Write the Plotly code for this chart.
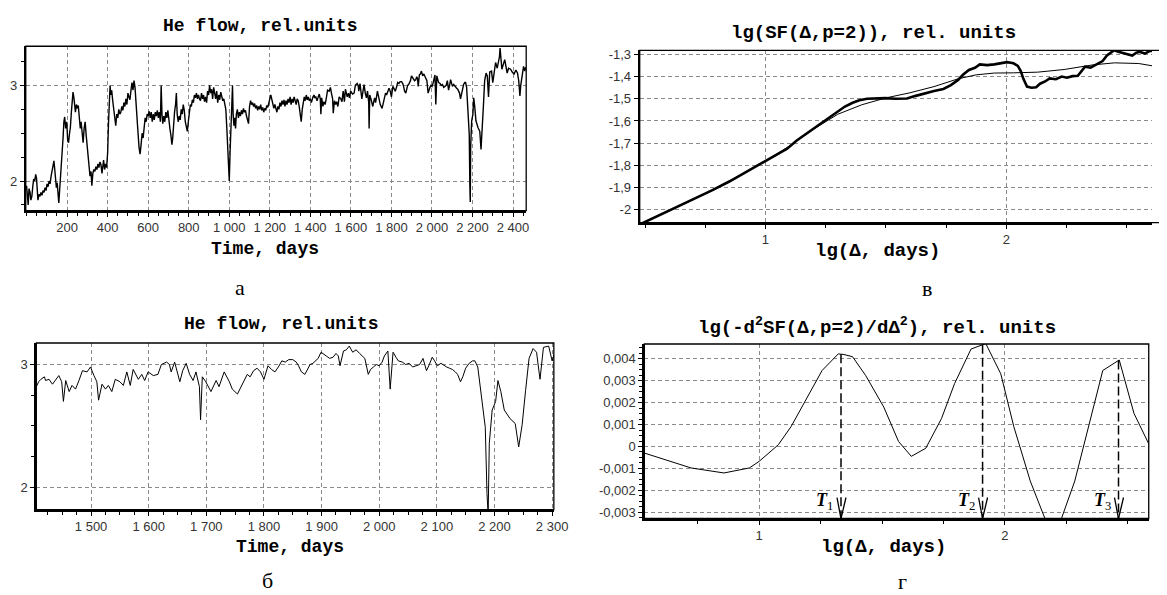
import numpy as np
import plotly.graph_objects as go

W, H = 1167, 595          # reference picture size
OFF = 8                   # browser body margin
FW, FH = W - OFF, H - OFF  # figure size so that it ends at the window edge

# ---------------- data: He flow series (days, rel. units) ----------------
day_early = [0, 4, 8, 12, 17, 21, 26, 31, 35, 40, 45, 49, 53, 56, 61, 66, 71, 76, 81, 86, 91, 96, 101, 106, 111, 116, 121, 126, 131, 135,
             139, 143, 147, 151, 155, 159, 163, 167, 171, 176, 180, 184, 188, 193, 198, 203, 207, 212, 216, 221, 225, 229, 233, 237, 241,
             246, 251, 255, 260, 265, 269, 274, 279, 284, 289, 294, 298, 303, 308, 313, 318, 322, 327, 332, 337, 342, 347, 352, 357, 362,
             367, 372, 376, 380, 385, 390, 395, 400, 404, 408, 412, 416, 420, 425, 430, 435, 440, 445, 450, 455, 460, 465, 470, 475, 480,
             485, 490, 495, 500, 505, 510, 515, 520, 525, 530, 535, 540, 545, 550, 555, 560, 565, 570, 575, 580, 585, 590, 595, 600, 605,
             610, 615, 620, 625, 630, 635, 640, 645, 650, 655, 660, 664, 668, 672, 677, 682, 687, 692, 697, 702, 707, 712, 717, 721, 725,
             730, 735, 739, 743, 748, 753, 758, 763, 768, 773, 778, 783, 788, 793, 798, 803, 808, 813, 818, 823, 828, 833, 838, 843, 848,
             853, 858, 863, 868, 873, 878, 883, 888, 893, 898, 903, 908, 913, 918, 923, 928, 933, 938, 943, 948, 953, 958, 963, 968, 973,
             978, 983, 988, 992, 996, 1000, 1004, 1008, 1012, 1016, 1019, 1023, 1027, 1031, 1035, 1040, 1045, 1050, 1055, 1060, 1065,
             1070, 1075, 1080, 1085, 1090, 1095, 1100, 1105, 1110, 1115, 1120, 1125, 1130, 1135, 1140, 1145, 1150, 1155, 1160, 1165,
             1170, 1175, 1180, 1185, 1190, 1195, 1200, 1205, 1210, 1215, 1220, 1225, 1230, 1235, 1240, 1245, 1250, 1255, 1260, 1265,
             1270, 1275, 1280, 1285, 1290, 1295, 1300, 1305, 1310, 1315, 1320, 1325, 1330, 1335, 1340, 1345, 1350, 1355, 1360, 1365,
             1370, 1375, 1380, 1385, 1390, 1395, 1400]
flow_early = [1.95, 1.80, 1.75, 1.92, 1.88, 1.80, 1.84, 1.95, 2.02, 2.00, 2.07, 2.03, 1.90, 1.80, 1.86, 1.84, 1.88, 1.85, 1.90, 1.88,
              1.93, 1.90, 1.97, 1.94, 2.00, 1.97, 2.05, 2.10, 2.15, 2.21, 2.12, 2.02, 1.93, 1.98, 1.85, 1.77, 1.90, 2.02, 2.10, 2.28,
              2.45, 2.62, 2.67, 2.55, 2.62, 2.42, 2.40, 2.50, 2.56, 2.72, 2.80, 2.93, 2.88, 2.78, 2.72, 2.80, 2.76, 2.79, 2.68, 2.55,
              2.62, 2.45, 2.40, 2.55, 2.62, 2.48, 2.38, 2.25, 2.10, 2.05, 2.10, 1.95, 2.08, 2.12, 2.10, 2.15, 2.12, 2.18, 2.14, 2.20,
              2.17, 2.08, 2.15, 2.22, 2.12, 2.18, 2.14, 2.30, 2.60, 2.85, 3.00, 2.90, 2.95, 2.84, 2.75, 2.72, 2.58, 2.70, 2.66, 2.75,
              2.70, 2.72, 2.78, 2.74, 2.82, 2.78, 2.86, 2.80, 2.92, 2.88, 2.85, 2.95, 3.03, 2.95, 3.05, 2.98, 2.85, 2.72, 2.50, 2.35,
              2.28, 2.38, 2.50, 2.45, 2.58, 2.66, 2.62, 2.70, 2.68, 2.73, 2.66, 2.72, 2.62, 2.70, 2.64, 2.72, 2.68, 2.74, 2.66, 2.72,
              2.62, 3.00, 2.70, 2.60, 2.68, 2.62, 2.72, 2.66, 2.74, 2.62, 2.55, 2.48, 2.38, 2.45, 2.60, 2.72, 2.80, 2.92, 2.70, 2.62,
              2.68, 2.64, 2.75, 2.70, 2.80, 2.74, 2.62, 2.55, 2.52, 2.62, 2.72, 2.80, 2.78, 2.85, 2.82, 2.90, 2.87, 2.92, 2.86, 2.90,
              2.86, 2.84, 2.92, 2.86, 2.90, 2.83, 2.88, 2.82, 2.94, 2.90, 3.00, 2.92, 2.96, 2.86, 2.98, 2.90, 2.86, 2.94, 2.82, 2.90,
              2.85, 2.93, 2.88, 2.84, 2.86, 2.80, 2.75, 2.55, 2.30, 2.15, 2.00, 2.30, 2.55, 2.62, 3.00, 2.70, 2.58, 2.66, 2.55, 2.70,
              2.75, 2.66, 2.72, 2.68, 2.74, 2.70, 2.76, 2.72, 2.74, 2.68, 2.62, 2.60, 2.78, 2.84, 2.80, 2.82, 2.78, 2.81, 2.76, 2.79,
              2.74, 2.78, 2.75, 2.80, 2.74, 2.77, 2.72, 2.76, 2.74, 2.79, 2.77, 2.83, 2.86, 2.90, 2.84, 2.80, 2.76, 2.80, 2.74, 2.72,
              2.78, 2.75, 2.82, 2.78, 2.84, 2.80, 2.85, 2.78, 2.84, 2.80, 2.86, 2.82, 2.88, 2.80, 2.86, 2.82, 2.88, 2.84, 2.80, 2.86,
              2.84, 2.78, 2.72, 2.62, 2.75, 2.82, 2.88, 2.84, 2.90, 2.85, 2.88, 2.84, 2.86]

day_mid = [1405, 1409, 1413, 1419, 1421, 1427, 1433, 1439, 1444, 1449, 1452, 1456, 1462, 1467, 1473, 1479, 1485, 1493, 1499, 1505,
           1510, 1513, 1519, 1525, 1530, 1536, 1542, 1550, 1556, 1562, 1568, 1573, 1582, 1588, 1593, 1599, 1608, 1616, 1622, 1631,
           1636, 1639, 1645, 1654, 1659, 1665, 1671, 1677, 1682, 1688, 1690, 1693, 1699, 1708, 1717, 1722, 1731, 1740, 1745, 1754,
           1765, 1771, 1776, 1782, 1788, 1794, 1800, 1807, 1813, 1819, 1825, 1831, 1837, 1843, 1850, 1856, 1860, 1865, 1871, 1876,
           1880, 1885, 1889, 1894, 1899, 1904, 1908, 1914, 1920, 1925, 1929, 1932, 1938, 1943, 1948, 1954, 1960, 1966, 1970, 1975,
           1981, 1985, 1990, 1995, 2000, 2005, 2009, 2015, 2019, 2024, 2029, 2033, 2040, 2046, 2052, 2058, 2064, 2070, 2076, 2082,
           2087, 2092, 2096, 2101, 2107, 2113, 2117, 2122, 2127, 2132, 2136, 2141, 2145, 2150, 2156, 2162, 2166, 2171, 2178, 2184,
           2187, 2189, 2191, 2196, 2202, 2206, 2211, 2217, 2227, 2236, 2242, 2248, 2254, 2260, 2267, 2273, 2279, 2285, 2294, 2300]
flow_mid = [2.82, 2.86, 2.88, 2.90, 2.87, 2.88, 2.84, 2.88, 2.91, 2.86, 2.70, 2.87, 2.78, 2.83, 2.80, 2.87, 2.95, 2.94, 2.98, 2.91,
            2.86, 2.71, 2.84, 2.80, 2.83, 2.78, 2.88, 2.86, 2.83, 2.94, 2.83, 2.96, 2.88, 2.92, 2.87, 2.94, 2.91, 2.92, 3.00, 3.02,
            3.00, 2.94, 3.02, 2.86, 2.95, 3.01, 2.92, 2.87, 2.94, 2.82, 2.55, 2.90, 2.86, 2.78, 2.87, 2.82, 2.94, 2.86, 2.80, 2.76,
            2.87, 2.92, 2.90, 2.95, 2.97, 2.94, 2.88, 2.99, 2.96, 2.94, 2.98, 3.03, 3.02, 3.04, 3.04, 3.02, 2.99, 2.94, 2.92, 2.97,
            3.00, 3.01, 3.03, 3.05, 3.10, 3.08, 3.07, 3.05, 3.06, 3.09, 3.07, 2.99, 3.11, 3.12, 3.15, 3.10, 3.12, 3.09, 3.07, 3.05,
            2.92, 2.96, 2.98, 3.00, 2.99, 3.02, 3.07, 3.11, 2.80, 3.10, 3.06, 3.03, 3.02, 3.00, 3.01, 2.98, 2.99, 3.00, 3.05, 2.95,
            3.00, 3.06, 3.03, 2.99, 3.01, 2.99, 2.98, 2.97, 2.96, 2.94, 2.92, 2.86, 2.90, 2.97, 3.01, 3.03, 3.03, 2.98, 2.71, 2.49,
            1.95, 1.78, 2.36, 2.63, 2.70, 2.87, 2.78, 2.63, 2.56, 2.52, 2.33, 2.51, 2.79, 3.05, 3.13, 3.10, 2.88, 3.14, 3.15, 3.03]

day_tail = [2306, 2314, 2322, 2328, 2333, 2336, 2340, 2345, 2352, 2359, 2365, 2371, 2378, 2388, 2396, 2405, 2414, 2422, 2428, 2434,
            2438, 2443, 2448, 2452, 2458, 2463]
flow_tail = [3.12, 3.24, 3.18, 3.25, 3.30, 3.39, 3.28, 3.17, 3.22, 3.27, 3.20, 3.13, 3.18, 3.17, 3.14, 3.12, 3.16, 3.13, 3.05, 2.89,
             3.00, 3.07, 3.12, 3.20, 3.15, 3.19]

# ---------------- data: structure function ----------------
sf_lg = [0.487, 0.55, 0.62, 0.70, 0.78, 0.85, 0.92, 1.0, 1.05, 1.09, 1.13, 1.166, 1.20, 1.241, 1.27, 1.302, 1.33, 1.362, 1.39,
         1.422, 1.46, 1.498, 1.54, 1.588, 1.62, 1.664, 1.70, 1.739, 1.77, 1.80, 1.82, 1.845, 1.87, 1.89, 1.92, 1.95, 1.98, 2.003,
         2.03, 2.048, 2.06, 2.071, 2.086, 2.105, 2.124, 2.14, 2.161, 2.18, 2.206, 2.23, 2.252, 2.275, 2.297, 2.31, 2.327, 2.35,
         2.37, 2.388, 2.40, 2.418, 2.435, 2.448, 2.465, 2.48, 2.493, 2.51, 2.523, 2.54, 2.554, 2.575, 2.599, 2.61]
sf_emp = [-2.062, -2.030, -1.993, -1.955, -1.912, -1.873, -1.830, -1.782, -1.752, -1.725, -1.688, -1.660, -1.635, -1.602, -1.578,
          -1.555, -1.535, -1.518, -1.507, -1.500, -1.497, -1.497, -1.500, -1.499, -1.488, -1.474, -1.465, -1.456, -1.438, -1.415,
          -1.392, -1.370, -1.360, -1.345, -1.348, -1.345, -1.340, -1.335, -1.340, -1.352, -1.375, -1.410, -1.445, -1.450, -1.448,
          -1.432, -1.422, -1.408, -1.412, -1.400, -1.405, -1.398, -1.396, -1.380, -1.355, -1.360, -1.348, -1.338, -1.330, -1.305,
          -1.290, -1.281, -1.288, -1.292, -1.295, -1.300, -1.305, -1.292, -1.288, -1.296, -1.283, -1.285]
fit_lg = [0.487, 0.70, 0.90, 1.0, 1.10, 1.20, 1.30, 1.40, 1.50, 1.60, 1.70, 1.80, 1.875, 1.95, 2.03, 2.13, 2.24, 2.36, 2.45, 2.55, 2.61]
sf_fit = [-2.062, -1.955, -1.842, -1.782, -1.713, -1.637, -1.570, -1.527, -1.496, -1.473, -1.445, -1.410, -1.392, -1.384, -1.383,
          -1.380, -1.368, -1.347, -1.338, -1.341, -1.352]

# ---------------- data: second derivative ----------------
d2_lg = [0.533, 0.723, 0.857, 0.96, 1.0, 1.078, 1.13, 1.19, 1.256, 1.322, 1.345, 1.38, 1.433, 1.507, 1.567, 1.619, 1.678, 1.742,
         1.795, 1.862, 1.909, 1.922, 1.983, 2.036, 2.103, 2.198, 2.284, 2.398, 2.465, 2.525, 2.585]
d2_val = [-0.0003, -0.00098, -0.00121, -0.00098, -0.00068, 0.00008, 0.00091, 0.0021, 0.00347, 0.00423, 0.0042, 0.0041, 0.00325,
          0.0018, 0.00023, -0.00045, -0.00008, 0.00128, 0.00287, 0.00445, 0.00465, 0.0047, 0.00332, 0.00091, -0.00158, -0.0043,
          -0.00158, 0.00347, 0.00395, 0.00151, 0.00012]
t_lg = [1.333, 1.909, 2.462]
t_names = ["1", "2", "3"]

# ---------------- tick labels ----------------
a_ticks = [200, 400, 600, 800, 1000, 1200, 1400, 1600, 1800, 2000, 2200, 2400]
a_ticktext = ["200", "400", "600", "800", "1 000", "1 200", "1 400", "1 600", "1 800", "2 000", "2 200", "2 400"]
b_ticks = [1500, 1600, 1700, 1800, 1900, 2000, 2100, 2200, 2300]
b_ticktext = ["1 500", "1 600", "1 700", "1 800", "1 900", "2 000", "2 100", "2 200", "2 300"]
flow_yticks = [2, 3]
sf_yticks = [-2.0, -1.9, -1.8, -1.7, -1.6, -1.5, -1.4, -1.3]
sf_yticktext = ["-2", "-1,9", "-1,8", "-1,7", "-1,6", "-1,5", "-1,4", "-1,3"]
d2_yticks = [-0.003, -0.002, -0.001, 0.0, 0.001, 0.002, 0.003, 0.004]
d2_yticktext = ["-0,003", "-0,002", "-0,001", "0", "0,001", "0,002", "0,003", "0,004"]
lg_ticks = [1, 2]

# ---------------- layout helpers (page pixels -> paper) ----------------
def fx(p):
    return (p - OFF) / FW


def fy(p):
    return 1 - (p - OFF) / FH


TICKFONT = dict(family="Liberation Sans", size=13, color="#333333")
GRID = dict(showgrid=True, gridcolor="#8a8a8a", griddash="4px,3px", gridwidth=1)


def axis(domain, rng, tickvals, ticktext, anchor, minor_dtick, minor_tick0=0):
    d = dict(domain=domain, range=rng, anchor=anchor, tickmode="array", tickvals=tickvals, ticktext=ticktext,
             showline=True, linecolor="black", linewidth=2, mirror=False, ticks="outside", ticklen=4, tickwidth=1,
             tickcolor="black", zeroline=False, tickfont=TICKFONT, fixedrange=True,
             minor=dict(ticks="outside", ticklen=3, tickwidth=1, tickcolor="black", dtick=minor_dtick,
                        tick0=minor_tick0, showgrid=False))
    d.update(GRID)
    return d


fig = go.Figure()

day_all = day_early + day_mid + day_tail
flow_all = flow_early + flow_mid + flow_tail
fig.add_trace(go.Scatter(x=day_all, y=flow_all, mode="lines", line=dict(color="black", width=1.4),
                         xaxis="x", yaxis="y", showlegend=False))
fig.add_trace(go.Scatter(x=day_mid + day_tail[:1], y=flow_mid + flow_tail[:1], mode="lines",
                         line=dict(color="black", width=1), xaxis="x2", yaxis="y2", showlegend=False))
fig.add_trace(go.Scatter(x=fit_lg, y=sf_fit, mode="lines", line=dict(color="black", width=1),
                         xaxis="x3", yaxis="y3", showlegend=False))
fig.add_trace(go.Scatter(x=sf_lg, y=sf_emp, mode="lines", line=dict(color="black", width=2.6),
                         xaxis="x3", yaxis="y3", showlegend=False))
fig.add_trace(go.Scatter(x=d2_lg, y=d2_val, mode="lines", line=dict(color="black", width=1),
                         xaxis="x4", yaxis="y4", showlegend=False))

# panel domains (page pixels)
PA = dict(x=(26, 533), y=(43.5, 209))
PB = dict(x=(36.7, 561), y=(342.3, 510))
PC = dict(x=(648, 1167), y=(47.7, 221))
PD = dict(x=(652.7, 1163.7), y=(343.3, 519))


def dom(p):
    return [fx(p["x"][0]), fx(p["x"][1])], [fy(p["y"][1]), fy(p["y"][0])]


ax, ay = dom(PA)
bx, by = dom(PB)
cx, cy = dom(PC)
dx, dy = dom(PD)

d2_range = [-0.00329, 0.00468]

layout = dict(
    width=FW, height=FH, margin=dict(l=0, r=0, t=0, b=0), paper_bgcolor="white", plot_bgcolor="white",
    showlegend=False,
    xaxis=axis(ax, [-4, 2465], a_ticks, a_ticktext, "y", 50),
    yaxis=axis(ay, [1.69, 3.41], flow_yticks, ["2", "3"], "x", 0.25),
    xaxis2=axis(bx, [1405, 2303], b_ticks, b_ticktext, "y2", 25),
    yaxis2=axis(by, [1.82, 3.175], flow_yticks, ["2", "3"], "x2", 0.25),
    xaxis3=axis(cx, [0.478, 2.605], lg_ticks, ["1", "2"], "y3", 0.25),
    yaxis3=axis(cy, [-2.058, -1.282], sf_yticks, sf_yticktext, "x3", 0.1),
    xaxis4=axis(dx, [0.533, 2.585], lg_ticks, ["1", "2"], "y4", 0.25),
    yaxis4=axis(dy, d2_range, d2_yticks, d2_yticktext, "x4", 0.00025),
)
fig.update_layout(**layout)

# frames
shapes = []
for xr, x1 in (("x", 1), ("x2", 1), ("x3", 1.05), ("x4", 1)):
    yr = "y" + xr[1:]
    shapes.append(dict(type="rect", xref=xr + " domain", yref=yr + " domain", x0=0, x1=x1, y0=0, y1=1,
                       line=dict(color="black", width=1.3), layer="above"))

# T markers: dashed verticals from the curve to the bottom, with V arrowheads
for t in t_lg:
    top = float(np.interp(t, d2_lg, d2_val))
    shapes.append(dict(type="line", xref="x4", yref="y4", x0=t, x1=t, y0=min(top, d2_range[1]), y1=d2_range[0],
                       line=dict(color="black", width=1.5, dash="9px,4px")))
    for off in (-4, 5):
        shapes.append(dict(type="line", xref="x4", yref="y4", xsizemode="pixel", ysizemode="pixel",
                           xanchor=t, yanchor=d2_range[0], x0=off, y0=21, x1=0, y1=0,
                           line=dict(color="black", width=1.3)))
fig.update_layout(shapes=shapes)

ann = []
TITLEFONT = dict(family="Liberation Mono", size=18, color="black")
TITLEFONT2 = dict(family="Liberation Mono", size=19, color="black")
LETTERFONT = dict(family="Liberation Serif", size=22, color="black")


def note(text, x, y, font):
    ann.append(dict(text=text, x=fx(x), y=fy(y), xref="paper", yref="paper", xanchor="center", yanchor="middle",
                    showarrow=False, font=font))


note("<b>He flow, rel.units</b>", 263, 23, TITLEFONT)
note("<b>He flow, rel.units</b>", 285, 323, TITLEFONT)
note("<b>lg(SF(\u0394,p=2)), rel. units</b>", 885, 30, TITLEFONT2)
note("<b>lg(-d<sup>2</sup>SF(\u0394,p=2)/d\u0394<sup>2</sup>), rel. units</b>", 888, 326, TITLEFONT2)
note("<b>Time, days</b>", 268, 248, TITLEFONT)
note("<b>Time, days</b>", 294, 548, TITLEFONT)
note("<b>lg(\u0394, days)</b>", 889, 250, TITLEFONT2)
note("<b>lg(\u0394, days)</b>", 895, 548, TITLEFONT2)
note("\u0430", 243, 286, LETTERFONT)
note("\u0431", 271, 581, LETTERFONT)
note("\u0432", 939, 287, LETTERFONT)
note("\u0433", 914, 582, LETTERFONT)

for t, name in zip(t_lg, t_names):
    ann.append(dict(text="<i><b>T</b></i><sub>" + name + "</sub>", x=t, xref="x4", y=fy(502), yref="paper",
                    xanchor="center", yanchor="middle", xshift=-16, showarrow=False,
                    font=dict(family="Liberation Serif", size=18, color="black")))

fig.update_layout(annotations=ann)

fig.write_html("out.html", config={"displayModeBar": False, "staticPlot": True})
